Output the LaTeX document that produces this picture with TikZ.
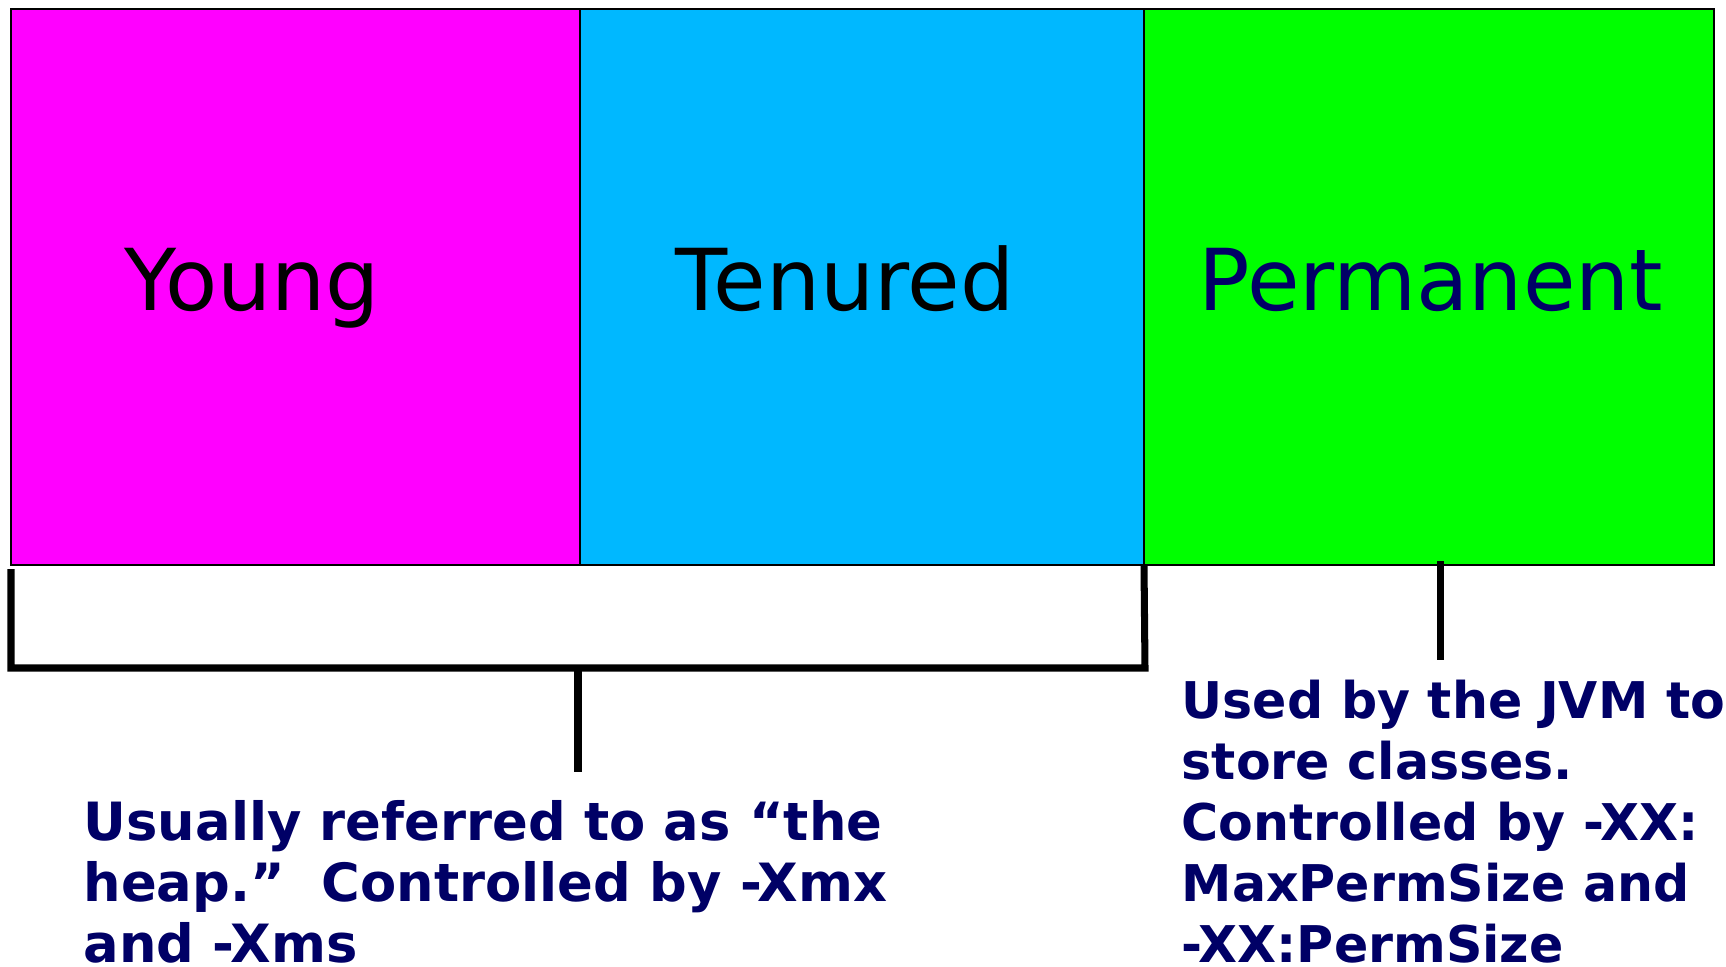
\documentclass[tikz,border=0pt]{standalone}
\usepackage{fontspec}
\setmainfont{DejaVu Sans}
\usetikzlibrary{positioning}

\definecolor{youngpink}{RGB}{255,0,255}
\definecolor{tenuredblue}{RGB}{0,184,255}
\definecolor{permgreen}{RGB}{0,255,0}
\definecolor{notenavy}{RGB}{0,0,102}

\tikzset{
  region/.style={draw, line width=0.6pt, inner sep=0pt, outer sep=0pt,
    minimum height=5.56cm, anchor=north west},
  regionname/.style={anchor=base, inner sep=0pt, font=\fontsize{24.3}{29}\selectfont},
  brace/.style={line width=2pt},
  note/.style={anchor=base west, align=left, inner sep=0pt, text=notenavy}
}

\begin{document}
\begin{tikzpicture}
\useasboundingbox (0,0) rectangle (17.26,-9.67);

% The three generations
\node[region, fill=youngpink, minimum width=5.69cm] (young) at (0.11,-0.09) {};
\node[region, fill=tenuredblue, minimum width=5.64cm, right=0pt of young] (tenured) {};
\node[region, fill=permgreen, minimum width=5.70cm, right=0pt of tenured] (permanent) {};

\node[regionname] (younglabel) at (2.52,-3.10) {Young};
\node[regionname] (tenuredlabel) at (8.45,-3.10) {Tenured};
\node[regionname, text=notenavy] (permlabel) at (14.31,-3.10) {Permanent};

% Bracket under young + tenured
\coordinate (heapleft) at (0.11,-6.68);
\coordinate (heapright) at (11.45,-6.68);
\draw[brace] ([yshift=-0.04cm]young.south west) -- (heapleft) -- (heapright) -- (tenured.south east);
\coordinate (heapmid) at (5.78,-6.68);
\coordinate (heaptip) at (5.78,-7.72);
\draw[brace] (heapmid) -- (heaptip);

% Tick under permanent
\coordinate (permtop) at (14.40,-5.61);
\coordinate (permtip) at (14.40,-6.60);
\draw[brace] (permtop) -- (permtip);

% Notes (base = last line)
\node[note, font=\bfseries\fontsize{15}{17.35}\selectfont] (heapnote) at (0.83,-9.62)
  {Usually referred to as “the\\heap.”\ \ Controlled by -Xmx\\and -Xms};
\node[note, font=\bfseries\fontsize{14.4}{17.3}\selectfont] (permnote) at (11.81,-9.62)
  {Used by the JVM to\\store classes.\\Controlled by -XX:\\MaxPermSize and\\-XX:PermSize};

\end{tikzpicture}
\end{document}
